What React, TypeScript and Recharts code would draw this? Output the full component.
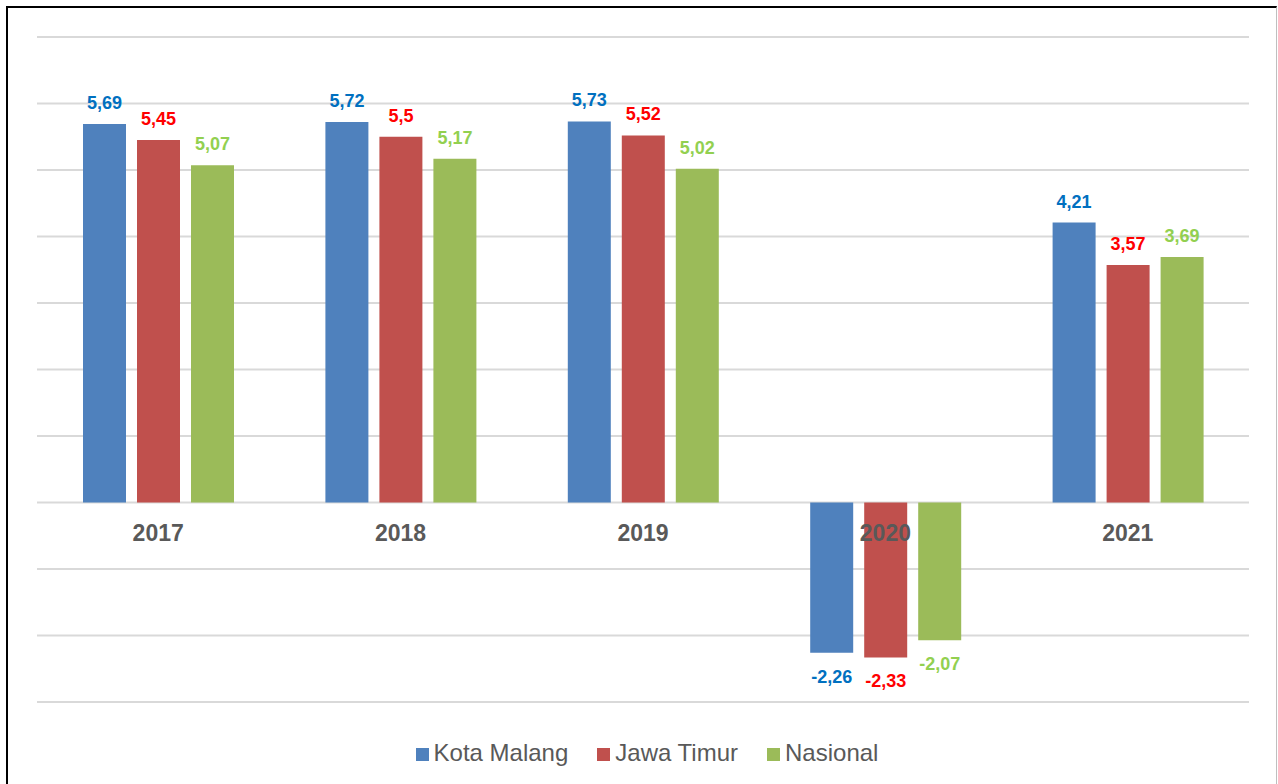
import React from "react";
import {
  Bar,
  BarChart,
  CartesianGrid,
  LabelList,
  ReferenceDot,
  XAxis,
  YAxis,
} from "recharts";

const years = ["2017", "2018", "2019", "2020", "2021"];
const kotaMalang = [5.69, 5.72, 5.73, -2.26, 4.21];
const jawaTimur = [5.45, 5.5, 5.52, -2.33, 3.57];
const nasional = [5.07, 5.17, 5.02, -2.07, 3.69];
const yTicks = [-3, -2, -1, 0, 1, 2, 3, 4, 5, 6, 7];

const series = [
  { key: "kotaMalang", name: "Kota Malang", fill: "#4f81bd", label: "#0070c0" },
  { key: "jawaTimur", name: "Jawa Timur", fill: "#c0504d", label: "#ff0000" },
  { key: "nasional", name: "Nasional", fill: "#9bbb59", label: "#92d050" },
];

const data = years.map((year, i) => ({
  year,
  kotaMalang: kotaMalang[i],
  jawaTimur: jawaTimur[i],
  nasional: nasional[i],
}));

const FONT = '"Liberation Sans", Arial, sans-serif';
const TEXT_GREY = "#595959";

const formatComma = (v: number) => String(v).replace(".", ",");

const makeValueLabel = (color: string) => (props: any) => {
  const { x, y, width, height, value } = props;
  const v = Number(value);
  const top = Math.min(y, y + height);
  const bottom = Math.max(y, y + height);
  const ty = v >= 0 ? top - 15 : bottom + 30;
  return (
    <text
      x={x + width / 2}
      y={ty}
      textAnchor="middle"
      fill={color}
      fontSize={18}
      fontWeight="bold"
      fontFamily={FONT}
    >
      {formatComma(v)}
    </text>
  );
};

const App = () => {
  return (
    <div
      style={{
        position: "absolute",
        left: 0,
        top: 0,
        width: 1278,
        height: 784,
        background: "#ffffff",
        overflow: "hidden",
        fontFamily: FONT,
      }}
    >
      <div
        style={{
          position: "absolute",
          left: 6,
          top: 6,
          width: 1268,
          height: 800,
          borderLeft: "2px solid #000",
          borderTop: "2px solid #000",
          borderRight: "1px solid #bfbfbf",
        }}
      />
      <div style={{ position: "absolute", left: 0, top: 0 }}>
        <BarChart
          width={1278}
          height={784}
          data={data}
          margin={{ top: 37, right: 29, bottom: 82, left: 37 }}
          barSize={43}
          barGap={11}
        >
          <CartesianGrid
            vertical={false}
            stroke="#d9d9d9"
            strokeWidth={2}
          />
          <XAxis dataKey="year" hide />
          <YAxis hide domain={[-3, 7]} ticks={yTicks} type="number" />
          {series.map((s) => (
            <Bar
              key={s.key}
              dataKey={s.key}
              name={s.name}
              fill={s.fill}
              isAnimationActive={false}
            >
              <LabelList dataKey={s.key} content={makeValueLabel(s.label)} />
            </Bar>
          ))}
          {years.map((year) => (
            <ReferenceDot
              key={year}
              x={year}
              y={0}
              r={0}
              fill="none"
              stroke="none"
              label={{
                value: year,
                position: "bottom",
                offset: 22,
                fill: TEXT_GREY,
                fontSize: 23,
                fontWeight: "bold",
                fontFamily: FONT,
              }}
            />
          ))}
        </BarChart>
      </div>
      <div
        style={{
          position: "absolute",
          left: 0,
          width: 1278,
          top: 739,
          display: "flex",
          justifyContent: "center",
          paddingLeft: 16,
          boxSizing: "border-box",
        }}
      >
        {series.map((s, i) => (
          <div
            key={s.key}
            style={{
              display: "flex",
              alignItems: "center",
              marginLeft: i === 0 ? 0 : 29,
            }}
          >
            <span
              style={{
                display: "inline-block",
                width: 13,
                height: 13,
                background: s.fill,
                marginRight: 5,
                marginTop: 3,
              }}
            />
            <span style={{ fontSize: 24, color: TEXT_GREY, lineHeight: "28px" }}>
              {s.name}
            </span>
          </div>
        ))}
      </div>
    </div>
  );
};

export default App;
